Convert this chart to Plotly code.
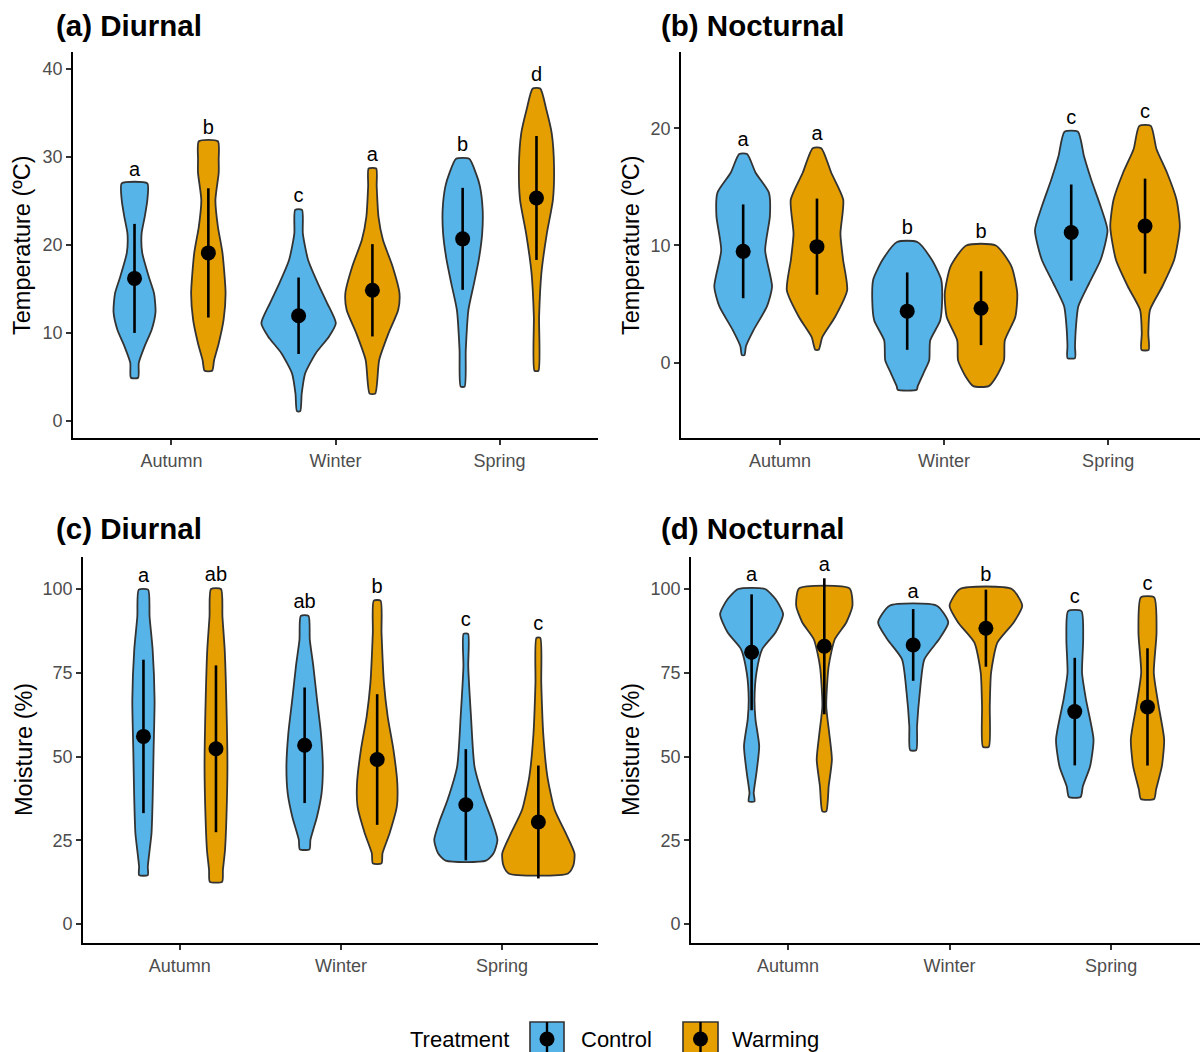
import plotly.graph_objects as go

# ---------------- data ----------------
seasons = ["Autumn", "Winter", "Spring"]
treatments = ["Control", "Warming"]
panel_titles = ["(a) Diurnal", "(b) Nocturnal", "(c) Diurnal", "(d) Nocturnal"]
y_titles = ["Temperature (ºC)", "Temperature (ºC)", "Moisture (%)", "Moisture (%)"]
y_ranges = [[-1.95, 41.95], [-6.42, 26.5], [-5.67, 109.55], [-5.67, 109.55]]
x_ranges = [[0.4, 3.6], [0.396, 3.56], [0.4, 3.595], [0.4, 3.55]]
y_ticks = [[0, 10, 20, 30, 40], [0, 10, 20], [0, 25, 50, 75, 100], [0, 25, 50, 75, 100]]

# means and standard deviations  [panel][season]
ctrl_mean = [[16.2, 11.95, 20.7], [9.5, 4.4, 11.1], [56.0, 53.35, 35.6], [81.1, 83.3, 63.4]]
ctrl_sd = [[6.2, 4.35, 5.8], [4.0, 3.3, 4.1], [22.9, 17.25, 16.6], [17.3, 10.7, 16.05]]
warm_mean = [[19.1, 14.85, 25.35], [9.9, 4.65, 11.65], [52.3, 49.1, 30.45], [82.9, 88.3, 64.8]]
warm_sd = [[7.35, 5.25, 7.05], [4.1, 3.15, 4.05], [24.9, 19.5, 16.85], [20.3, 11.5, 17.5]]

# significance letters [panel][season]
ctrl_letters = [["a", "c", "b"], ["a", "b", "c"], ["a", "ab", "c"], ["a", "a", "c"]]
warm_letters = [["b", "a", "d"], ["a", "b", "c"], ["ab", "b", "c"], ["a", "b", "c"]]

# violin profiles (value levels and half-width of density) [panel][season]
ctrl_prof_y = [
    [[27.0, 25.1, 23.2, 21.3, 19.1, 16.4, 14.5, 12.4, 10.4, 8.5, 6.6, 4.9],
     [24.0, 21.3, 18.3, 15.7, 13.4, 11.1, 9.6, 7.7, 5.4, 3.1, 1.1],
     [29.8, 28.2, 26.7, 24.0, 21.3, 18.3, 15.7, 12.6, 8.1, 3.9]],
    [[17.8, 16.2, 14.5, 12.5, 9.6, 6.5, 4.8, 2.8, 1.4, 0.65],
     [10.3, 8.8, 7.1, 5.3, 3.6, 1.9, 0.2, -0.9, -2.0, -2.3],
     [19.7, 17.6, 15.6, 13.3, 11.3, 8.8, 6.8, 4.8, 3.1, 1.4, 0.4]],
    [[99.8, 91.8, 81.9, 66.9, 52.0, 37.1, 27.1, 21.1, 17.1, 14.6],
     [92.0, 84.9, 76.9, 66.9, 57.0, 47.0, 39.0, 32.1, 25.1, 22.3],
     [86.6, 76.9, 62.0, 47.0, 37.1, 31.1, 25.1, 21.1, 18.9]],
    [[100.0, 97.0, 92.5, 87.0, 82.0, 75.0, 67.1, 61.1, 53.1, 45.1, 39.1, 36.6],
     [95.0, 90.0, 85.0, 79.0, 69.1, 59.1, 51.9],
     [93.4, 85.0, 75.0, 67.1, 55.1, 47.1, 41.1, 37.9]],
]
ctrl_prof_w = [
    [[0.078, 0.078, 0.062, 0.043, 0.047, 0.087, 0.119, 0.128, 0.105, 0.062, 0.026, 0.022],
     [0.021, 0.026, 0.058, 0.116, 0.174, 0.227, 0.186, 0.105, 0.040, 0.019, 0.010],
     [0.040, 0.080, 0.105, 0.122, 0.119, 0.098, 0.070, 0.035, 0.019, 0.012]],
    [[0.024, 0.076, 0.157, 0.163, 0.134, 0.176, 0.145, 0.064, 0.017, 0.008],
     [0.062, 0.149, 0.207, 0.213, 0.201, 0.140, 0.134, 0.099, 0.064, 0.058],
     [0.041, 0.078, 0.122, 0.180, 0.221, 0.180, 0.110, 0.043, 0.029, 0.023, 0.023]],
    [[0.029, 0.038, 0.057, 0.069, 0.063, 0.057, 0.050, 0.036, 0.027, 0.027],
     [0.024, 0.032, 0.054, 0.077, 0.101, 0.113, 0.105, 0.077, 0.036, 0.030],
     [0.014, 0.015, 0.032, 0.054, 0.113, 0.160, 0.196, 0.172, 0.125]],
    [[0.083, 0.148, 0.195, 0.148, 0.065, 0.030, 0.018, 0.024, 0.047, 0.030, 0.013, 0.018],
     [0.146, 0.217, 0.160, 0.069, 0.041, 0.024, 0.019],
     [0.041, 0.052, 0.045, 0.069, 0.116, 0.095, 0.050, 0.036]],
]
warm_prof_y = [
    [[31.8, 29.7, 28.2, 25.1, 22.1, 19.1, 14.5, 11.5, 8.8, 6.9, 5.7],
     [28.7, 26.7, 23.2, 20.6, 17.6, 14.5, 12.6, 10.0, 6.9, 3.1],
     [37.8, 35.4, 32.7, 28.9, 25.1, 21.3, 16.8, 11.9, 5.7]],
    [[18.3, 16.2, 13.9, 11.0, 8.8, 6.2, 3.9, 2.2, 1.1],
     [10.0, 8.2, 5.9, 3.9, 1.9, 0.2, -1.2, -2.0],
     [20.2, 18.2, 16.2, 13.9, 11.6, 8.8, 6.5, 4.5, 2.5, 1.1]],
    [[100.0, 91.8, 81.9, 66.9, 47.0, 32.1, 22.1, 16.1, 12.6],
     [96.5, 86.9, 71.9, 62.0, 52.0, 42.0, 35.1, 27.1, 21.1, 18.1],
     [85.4, 71.9, 57.0, 44.0, 34.1, 27.1, 21.1, 17.6, 15.1]],
    [[100.2, 95.0, 90.0, 85.0, 77.0, 65.1, 57.1, 49.1, 41.1, 33.6],
     [100.0, 95.0, 90.0, 84.0, 75.0, 65.1, 52.9],
     [97.5, 87.0, 75.0, 65.1, 55.1, 47.1, 40.1, 37.3]],
]
warm_prof_w = [
    [[0.058, 0.063, 0.063, 0.043, 0.058, 0.086, 0.105, 0.093, 0.063, 0.035, 0.023],
     [0.023, 0.026, 0.037, 0.064, 0.122, 0.165, 0.157, 0.099, 0.041, 0.017],
     [0.023, 0.060, 0.093, 0.107, 0.100, 0.063, 0.030, 0.016, 0.012]],
    [[0.026, 0.087, 0.160, 0.143, 0.159, 0.184, 0.110, 0.033, 0.010],
     [0.090, 0.186, 0.221, 0.209, 0.145, 0.140, 0.093, 0.047],
     [0.035, 0.070, 0.134, 0.192, 0.212, 0.178, 0.105, 0.030, 0.020, 0.022]],
    [[0.031, 0.040, 0.054, 0.064, 0.071, 0.065, 0.056, 0.043, 0.038],
     [0.021, 0.027, 0.042, 0.065, 0.101, 0.125, 0.122, 0.077, 0.033, 0.027],
     [0.012, 0.018, 0.030, 0.056, 0.101, 0.170, 0.224, 0.218, 0.184]],
    [[0.156, 0.174, 0.136, 0.065, 0.027, 0.012, 0.030, 0.047, 0.027, 0.012],
     [0.160, 0.225, 0.172, 0.071, 0.032, 0.024, 0.018],
     [0.041, 0.056, 0.039, 0.069, 0.103, 0.089, 0.053, 0.041]],
]

# ---------------- styling ----------------
W, H = 1200, 1052
FONT = "Liberation Sans, Arial, sans-serif"
COLORS = {"Control": "#56B4E9", "Warming": "#E69F00"}
DODGE = {"Control": -0.225, "Warming": 0.225}
# plot-area boxes in pixels: (left, right, top, bottom)
boxes = [(73, 598, 52, 438), (681, 1200, 52, 438), (83, 598, 557, 943), (691, 1200, 557, 943)]
title_pos = [(54, 25), (659, 25), (54, 528), (659, 528)]
ytitle_x = [22, 631, 24, 631]

fig = go.Figure()
layout = dict(
    width=W, height=H, margin=dict(l=0, r=0, t=0, b=0),
    paper_bgcolor="white", plot_bgcolor="white", showlegend=False,
    font=dict(family=FONT, color="black"),
)

annotations = []
shapes = []

for p in range(4):
    sfx = "" if p == 0 else str(p + 1)
    xa, ya = "x" + sfx, "y" + sfx
    l, r, t, b = boxes[p]
    layout["xaxis" + sfx] = dict(
        domain=[l / W, r / W], range=x_ranges[p], anchor=ya,
        tickvals=[1, 2, 3], ticktext=seasons, showgrid=False, zeroline=False,
        showline=True, linecolor="black", linewidth=1.8,
        ticks="outside", ticklen=5, tickwidth=1.5, tickcolor="#333333",
        tickfont=dict(size=18, color="#4D4D4D", family=FONT),
    )
    layout["yaxis" + sfx] = dict(
        domain=[1 - b / H, 1 - t / H], range=y_ranges[p], anchor=xa,
        tickvals=y_ticks[p], showgrid=False, zeroline=False,
        showline=True, linecolor="black", linewidth=1.8,
        ticks="outside", ticklen=5, tickwidth=1.5, tickcolor="#333333",
        tickfont=dict(size=18, color="#4D4D4D", family=FONT),
    )
    span = y_ranges[p][1] - y_ranges[p][0]
    for trt, prof_y, prof_w, means, sds, letters in [
        ("Control", ctrl_prof_y, ctrl_prof_w, ctrl_mean, ctrl_sd, ctrl_letters),
        ("Warming", warm_prof_y, warm_prof_w, warm_mean, warm_sd, warm_letters),
    ]:
        for s in range(3):
            cx = s + 1 + DODGE[trt]
            ys = prof_y[p][s]
            ws = prof_w[p][s]
            px = [cx + w for w in ws] + [cx - w for w in ws[::-1]]
            py = list(ys) + list(ys[::-1])
            px.append(px[0])
            py.append(py[0])
            fig.add_trace(go.Scatter(
                x=px, y=py, xaxis=xa, yaxis=ya, mode="lines", fill="toself",
                fillcolor=COLORS[trt],
                line=dict(color="#333333", width=1.8, shape="spline", smoothing=0.6),
                hoverinfo="skip",
            ))
        xs = [s + 1 + DODGE[trt] for s in range(3)]
        fig.add_trace(go.Scatter(
            x=xs, y=means[p], xaxis=xa, yaxis=ya, mode="markers",
            marker=dict(color="black", size=15),
            error_y=dict(type="data", array=sds[p], visible=True, width=0,
                         thickness=2.6, color="black"),
        ))
        tops = [max(max(prof_y[p][s]), means[p][s] + sds[p][s]) for s in range(3)]
        fig.add_trace(go.Scatter(
            x=xs, y=[tp + 0.033 * span for tp in tops], xaxis=xa, yaxis=ya,
            mode="text", text=letters[p], textposition="middle center",
            textfont=dict(size=20, color="black", family=FONT), hoverinfo="skip",
        ))
    tx, ty = title_pos[p]
    annotations.append(dict(
        text="<b>%s</b>" % panel_titles[p], xref="paper", yref="paper",
        x=tx / W, y=1 - ty / H, xanchor="left", yanchor="middle", showarrow=False,
        font=dict(size=29.5, color="black", family=FONT),
    ))
    annotations.append(dict(
        text=y_titles[p], xref="paper", yref="paper", textangle=-90,
        x=ytitle_x[p] / W, y=1 - ((t + b) / 2) / H, xanchor="center", yanchor="middle",
        showarrow=False, font=dict(size=23.5, color="black", family=FONT),
    ))

# ---------------- legend (drawn) ----------------
leg_cy = 1039
annotations.append(dict(text="Treatment", xref="paper", yref="paper", x=408 / W,
                        y=1 - leg_cy / H, xanchor="left", yanchor="middle", showarrow=False,
                        font=dict(size=22, color="black", family=FONT)))
for (bx0, bx1, lx), trt in zip([(530, 564, 579), (683, 718, 730)], treatments):
    cxp = (bx0 + bx1) / 2
    shapes.append(dict(type="rect", xref="paper", yref="paper",
                       x0=bx0 / W, x1=bx1 / W, y0=1 - 1060 / H, y1=1 - 1022 / H,
                       fillcolor=COLORS[trt], line=dict(color="#333333", width=1.6)))
    shapes.append(dict(type="line", xref="paper", yref="paper",
                       x0=cxp / W, x1=cxp / W, y0=1 - 1056 / H, y1=1 - 1022 / H,
                       line=dict(color="black", width=2.4)))
    shapes.append(dict(type="circle", xref="paper", yref="paper",
                       x0=(cxp - 7.5) / W, x1=(cxp + 7.5) / W,
                       y0=1 - (leg_cy + 7.5) / H, y1=1 - (leg_cy - 7.5) / H,
                       fillcolor="black", line=dict(color="black", width=0)))
    annotations.append(dict(text=trt, xref="paper", yref="paper", x=lx / W,
                            y=1 - leg_cy / H, xanchor="left", yanchor="middle",
                            showarrow=False, font=dict(size=22, color="black", family=FONT)))

layout["annotations"] = annotations
layout["shapes"] = shapes
fig.update_layout(**layout)
fig.write_html("out.html", config={"displayModeBar": False},
               post_script="document.body.style.margin='0px';")
